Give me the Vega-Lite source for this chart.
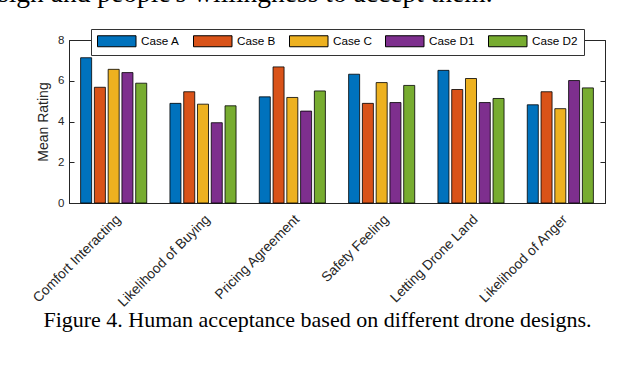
{
  "$schema": "https://vega.github.io/schema/vega-lite/v6.json",
  "width": 536,
  "height": 163,
  "autosize": {"type": "none"},
  "padding": {"left": 69, "top": 40, "right": 19, "bottom": 163},
  "background": "white",
  "title": {
    "text": "sign and people's willingness to accept them.",
    "anchor": "start",
    "frame": "group",
    "font": "Liberation Serif",
    "fontSize": 27.5,
    "fontWeight": "normal",
    "color": "black",
    "baseline": "alphabetic",
    "offset": 0,
    "dx": -71,
    "dy": 1
  },
  "config": {
    "view": {"stroke": "#262626", "strokeWidth": 1},
    "axis": {
      "domainColor": "#262626",
      "tickColor": "#262626",
      "labelColor": "#262626",
      "labelFont": "Liberation Sans",
      "titleFont": "Liberation Sans",
      "grid": false
    },
    "legend": {
      "labelFont": "Liberation Sans"
    }
  },
  "data": {
    "values": [
      {"metric": "Comfort Interacting", "case": "Case A", "rating": 7.13},
      {"metric": "Comfort Interacting", "case": "Case B", "rating": 5.68},
      {"metric": "Comfort Interacting", "case": "Case C", "rating": 6.56},
      {"metric": "Comfort Interacting", "case": "Case D1", "rating": 6.40},
      {"metric": "Comfort Interacting", "case": "Case D2", "rating": 5.88},
      {"metric": "Likelihood of Buying", "case": "Case A", "rating": 4.89},
      {"metric": "Likelihood of Buying", "case": "Case B", "rating": 5.46},
      {"metric": "Likelihood of Buying", "case": "Case C", "rating": 4.85},
      {"metric": "Likelihood of Buying", "case": "Case D1", "rating": 3.94},
      {"metric": "Likelihood of Buying", "case": "Case D2", "rating": 4.77},
      {"metric": "Pricing Agreement", "case": "Case A", "rating": 5.21},
      {"metric": "Pricing Agreement", "case": "Case B", "rating": 6.68},
      {"metric": "Pricing Agreement", "case": "Case C", "rating": 5.18},
      {"metric": "Pricing Agreement", "case": "Case D1", "rating": 4.51},
      {"metric": "Pricing Agreement", "case": "Case D2", "rating": 5.50},
      {"metric": "Safety Feeling", "case": "Case A", "rating": 6.32},
      {"metric": "Safety Feeling", "case": "Case B", "rating": 4.89},
      {"metric": "Safety Feeling", "case": "Case C", "rating": 5.91},
      {"metric": "Safety Feeling", "case": "Case D1", "rating": 4.93},
      {"metric": "Safety Feeling", "case": "Case D2", "rating": 5.77},
      {"metric": "Letting Drone Land", "case": "Case A", "rating": 6.51},
      {"metric": "Letting Drone Land", "case": "Case B", "rating": 5.57},
      {"metric": "Letting Drone Land", "case": "Case C", "rating": 6.11},
      {"metric": "Letting Drone Land", "case": "Case D1", "rating": 4.93},
      {"metric": "Letting Drone Land", "case": "Case D2", "rating": 5.13},
      {"metric": "Likelihood of Anger", "case": "Case A", "rating": 4.82},
      {"metric": "Likelihood of Anger", "case": "Case B", "rating": 5.46},
      {"metric": "Likelihood of Anger", "case": "Case C", "rating": 4.63},
      {"metric": "Likelihood of Anger", "case": "Case D1", "rating": 6.01},
      {"metric": "Likelihood of Anger", "case": "Case D2", "rating": 5.65}
    ]
  },
  "layer": [
    {
      "mark": {"type": "bar", "stroke": "#000000", "strokeWidth": 0.8},
      "encoding": {
        "x": {
          "field": "metric",
          "type": "nominal",
          "sort": null,
          "scale": {"paddingInner": 0.26, "paddingOuter": 0.13},
          "axis": {
            "labelAngle": -45,
            "labelFontSize": 13.8,
            "labelPadding": 14,
            "tickSize": -5,
            "title": "Figure 4. Human acceptance based on different drone designs.",
            "titleFont": "Liberation Serif",
            "titleFontSize": 22,
            "titleFontWeight": "normal",
            "titleColor": "black",
            "titleBaseline": "alphabetic",
            "titleAlign": "center",
            "titleX": 248,
            "titleY": 123
          }
        },
        "xOffset": {
          "field": "case",
          "type": "nominal",
          "scale": {"paddingInner": 0.2, "paddingOuter": 0}
        },
        "y": {
          "field": "rating",
          "type": "quantitative",
          "scale": {"domain": [0, 8], "nice": false},
          "axis": {
            "values": [0, 2, 4, 6, 8],
            "tickSize": -5,
            "labelPadding": 10,
            "labelFontSize": 11.5,
            "title": "Mean Rating",
            "titleFontSize": 14,
            "titleFontWeight": "normal",
            "titleColor": "#262626",
            "titlePadding": 7
          }
        },
        "color": {
          "field": "case",
          "type": "nominal",
          "scale": {
            "domain": ["Case A", "Case B", "Case C", "Case D1", "Case D2"],
            "range": ["#0072BD", "#D95319", "#EDB120", "#7E2F8E", "#77AC30"]
          },
          "legend": {
            "title": null,
            "orient": "none",
            "legendX": 22,
            "legendY": -11,
            "direction": "horizontal",
            "fillColor": "white",
            "strokeColor": "#333333",
            "padding": 6,
            "columnPadding": 11,
            "symbolType": "M-1,-1H6V1H-1Z",
            "symbolSize": 121,
            "symbolStrokeColor": "#000000",
            "symbolStrokeWidth": 1,
            "symbolOpacity": 1,
            "labelOffset": 32,
            "labelFontSize": 11.7,
            "labelColor": "#000000"
          }
        }
      }
    },
    {
      "mark": {"type": "bar", "opacity": 0},
      "encoding": {
        "x": {"field": "metric", "type": "nominal", "sort": null},
        "xOffset": {"field": "case", "type": "nominal"},
        "y": {
          "field": "rating",
          "type": "quantitative",
          "axis": {
            "orient": "right",
            "values": [0, 2, 4, 6, 8],
            "tickSize": -5,
            "labels": false,
            "title": null
          }
        }
      }
    }
  ],
  "resolve": {"axis": {"y": "independent"}}
}
